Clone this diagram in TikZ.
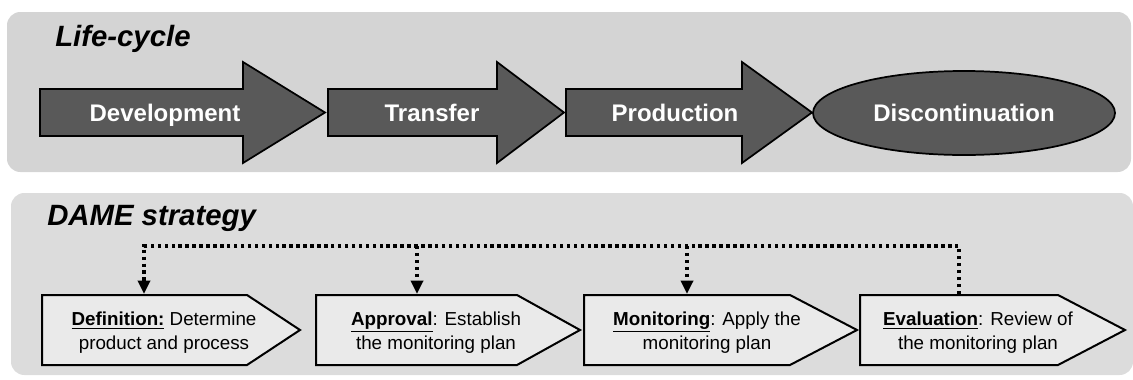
\documentclass[tikz,border=0pt]{standalone}
\usepackage{fontspec}
\setmainfont{Liberation Sans}
\usetikzlibrary{calc}
\usetikzlibrary{arrows.meta}

\definecolor{lifepanel}{HTML}{D4D4D4}
\definecolor{damepanel}{HTML}{DCDCDC}
\definecolor{phasegray}{HTML}{595959}
\definecolor{stagegray}{HTML}{EAEAEA}

\tikzset{
    panel/.style={draw=none,rounded corners=10pt},
    paneltitle/.style={anchor=base west,inner sep=0pt,font=\fontsize{22}{26}\selectfont\bfseries\itshape},
    phase/.style={draw=black,line width=1.3pt,fill=phasegray,line join=miter},
    phaselabel/.style={anchor=base,inner sep=0pt,text=white,font=\fontsize{18}{20}\selectfont\bfseries},
    stage/.style={draw=black,line width=1.5pt,fill=stagegray,line join=miter},
    stagelabel/.style={align=center,inner sep=0pt,font=\fontsize{14.1}{18}\selectfont},
    feedback/.style={line width=3pt,dash pattern=on 2.6pt off 2.6pt},
    feedtip/.style={-{Triangle[length=10pt,width=9pt]}}
}

\begin{document}
\begin{tikzpicture}[x=0.75pt,y=-0.75pt]
    \useasboundingbox (0,0) rectangle (1133,379);

    % panels
    \fill[panel,lifepanel] (7,12) rectangle (1131,172);
    \fill[panel,damepanel] (11,193) rectangle (1133,375);
    \node[paneltitle] (lifetitle) at (55,46) {Life-cycle};
    \node[paneltitle] (dametitle) at (47,225) {DAME strategy};

    % life-cycle phases
    \draw[phase] (40,89) -- (243,89) -- (243,62) -- (325,112.5) -- (243,163) -- (243,136) -- (40,136) -- cycle;
    \draw[phase] (328,89) -- (497,89) -- (497,62) -- (564,112.5) -- (497,163) -- (497,136) -- (328,136) -- cycle;
    \draw[phase] (566,89) -- (742,89) -- (742,62) -- (812,112.5) -- (742,163) -- (742,136) -- (566,136) -- cycle;
    \draw[phase] (964,113) ellipse [x radius=151,y radius=42];

    \node[phaselabel] (dev) at (165,121) {Development};
    \node[phaselabel] (tra) at (432,121) {Transfer};
    \node[phaselabel] (pro) at (675,121.5) {Production};
    \node[phaselabel] (dis) at (964,121.5) {Discontinuation};

    % DAME stages
    \draw[stage] (42,295) -- (247,295) -- (300,330) -- (247,365) -- (42,365) -- cycle;
    \draw[stage] (316,295) -- (517,295) -- (580,330) -- (517,365) -- (316,365) -- cycle;
    \draw[stage] (584,295) -- (790,295) -- (857,330) -- (790,365) -- (584,365) -- cycle;
    \draw[stage] (860,295) -- (1058,295) -- (1125,330) -- (1058,365) -- (860,365) -- cycle;

    \node[stagelabel] (def) at (164,333) {\underline{\textbf{Definition:}} Determine\\product and process};
    \node[stagelabel] (app) at (436,333) {\underline{\textbf{Approval}}: Establish\\the monitoring plan};
    \node[stagelabel] (mon) at (707,333) {\underline{\textbf{Monitoring}}: Apply the\\monitoring plan};
    \node[stagelabel] (eva) at (978,333) {\underline{\textbf{Evaluation}}: Review of\\the monitoring plan};

    \coordinate (deftop) at (144,294);
    \coordinate (apptop) at (417,294);
    \coordinate (montop) at (687,294);
    \coordinate (evatop) at (959,294);
    \coordinate (rail) at (0,246);

    % feedback loop
    \draw[feedback,feedtip] (evatop) -- (evatop |- rail) -- (deftop |- rail) -- (deftop);
    \draw[feedback,feedtip] (apptop |- rail) -- (apptop);
    \draw[feedback,feedtip] (montop |- rail) -- (montop);
\end{tikzpicture}
\end{document}
